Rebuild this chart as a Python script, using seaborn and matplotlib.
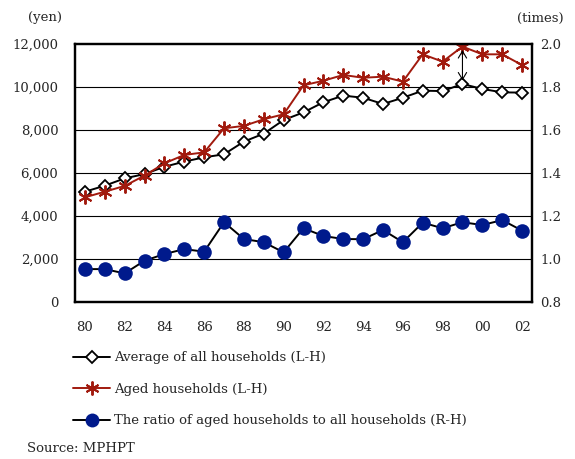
import numpy as np
import pandas as pd
import matplotlib.pyplot as plt
import seaborn as sns
from matplotlib.lines import Line2D

# --- data ---
years = [1980, 1981, 1982, 1983, 1984, 1985, 1986, 1987, 1988, 1989, 1990, 1991,
         1992, 1993, 1994, 1995, 1996, 1997, 1998, 1999, 2000, 2001, 2002]
year_labels = ["80", "82", "84", "86", "88", "90", "92", "94", "96", "98", "00", "02"]
all_households = [5130, 5410, 5750, 5950, 6290, 6530, 6730, 6870, 7460, 7830, 8465, 8820,
                  9290, 9600, 9500, 9210, 9500, 9830, 9810, 10140, 9910, 9750, 9740]
aged_households = [4870, 5130, 5400, 5880, 6450, 6840, 6960, 8080, 8190, 8500, 8730, 10080,
                   10290, 10560, 10430, 10480, 10250, 11520, 11180, 11880, 11520, 11520, 11020]
ratio = [0.953, 0.953, 0.933, 0.992, 1.023, 1.046, 1.034, 1.171, 1.093, 1.078, 1.031, 1.143,
         1.107, 1.093, 1.092, 1.135, 1.078, 1.169, 1.143, 1.171, 1.158, 1.181, 1.132]

df = pd.DataFrame({"year": years, "all": all_households, "aged": aged_households, "ratio": ratio})

sns.set_style("white")
plt.rcParams["font.family"] = ["DejaVu Serif"]

RED = "#a11a0e"
BLUE = "#001a8c"
FS = 9.5

fig = plt.figure(figsize=(5.75, 4.59), dpi=100)
ax = fig.add_axes([75 / 575, 1 - 302 / 459, (532 - 75) / 575, (302 - 44) / 459])
ax2 = ax.twinx()

# left axis series
sns.lineplot(data=df, x="year", y="all", ax=ax, color="black", lw=1.4,
             marker="D", ms=6.5, mfc="white", mec="black", mew=1.3,
             label="Average of all households (L-H)", legend=False)
sns.lineplot(data=df, x="year", y="aged", ax=ax, color=RED, lw=1.4,
             marker=(6, 2, 0), ms=10, mec=RED, mew=1.4,
             label="Aged households (L-H)", legend=False)
# right axis series
sns.lineplot(data=df, x="year", y="ratio", ax=ax2, color="black", lw=1.4,
             marker="o", ms=10.5, mfc=BLUE, mec=BLUE, mew=0,
             label="The ratio of aged households to all households (R-H)", legend=False)

# gap arrow at 1999
i99 = years.index(1999)
ax.annotate("", xy=(1999, aged_households[i99]), xytext=(1999, all_households[i99]),
            arrowprops=dict(arrowstyle="<->,head_length=0.5,head_width=0.3",
                            lw=0.8, color="black", shrinkA=2.5, shrinkB=2.5))

ax.set_xlim(years[0] - 0.5, years[-1] + 0.5)
ax.set_ylim(0, 12000)
ax2.set_ylim(0.8, 2.0)

ax.set_yticks(range(0, 12001, 2000))
ax.set_yticklabels([f"{v:,}" for v in range(0, 12001, 2000)], fontsize=FS)
ax2.set_yticks(np.round(np.arange(0.8, 2.01, 0.2), 1))
ax2.set_yticklabels([f"{v:.1f}" for v in np.arange(0.8, 2.01, 0.2)], fontsize=FS)

ax.set_xticks(years[::2])
ax.set_xticklabels(year_labels, fontsize=FS)
ax.set_xticks([y - 0.5 for y in years[2::2]], minor=True)
ax.tick_params(axis="x", which="major", length=0, pad=14)
ax.tick_params(axis="x", which="minor", direction="in", length=4, width=1, color="black")
ax.tick_params(axis="y", length=0, pad=12)
ax2.tick_params(axis="y", length=0, pad=6)

ax.set_xlabel("")
ax.set_ylabel("")
ax2.set_ylabel("")
ax.grid(False)
ax2.grid(False)
for v in range(2000, 12000, 2000):
    ax.axhline(v, color="black", lw=0.8, zorder=0)

for a in (ax, ax2):
    for s in a.spines.values():
        s.set_color("black")
        s.set_linewidth(1.6)

fig.text(45 / 575, 1 - 18 / 459, "(yen)", ha="center", va="center", fontsize=FS)
fig.text(540 / 575, 1 - 18 / 459, "(times)", ha="center", va="center", fontsize=FS)

handles = [
    Line2D([], [], color="black", lw=1.4, marker="D", ms=6, mfc="white", mec="black", mew=1.3),
    Line2D([], [], color=RED, lw=1.4, marker=(6, 2, 0), ms=10, mec=RED, mew=1.4),
    Line2D([], [], color="black", lw=1.4, marker="o", ms=10, mfc=BLUE, mec=BLUE, mew=0),
]
labels = ["Average of all households (L-H)", "Aged households (L-H)",
          "The ratio of aged households to all households (R-H)"]
fig.legend(handles, labels, loc="upper left", bbox_to_anchor=(68 / 575, 1 - 346 / 459),
           frameon=False, fontsize=FS, handlelength=2.8, handletextpad=0.3,
           labelspacing=1.4, borderaxespad=0)

fig.text(27 / 575, 1 - 449 / 459, "Source: MPHPT", ha="left", va="center", fontsize=FS)

fig.savefig("out.png", dpi=100)
